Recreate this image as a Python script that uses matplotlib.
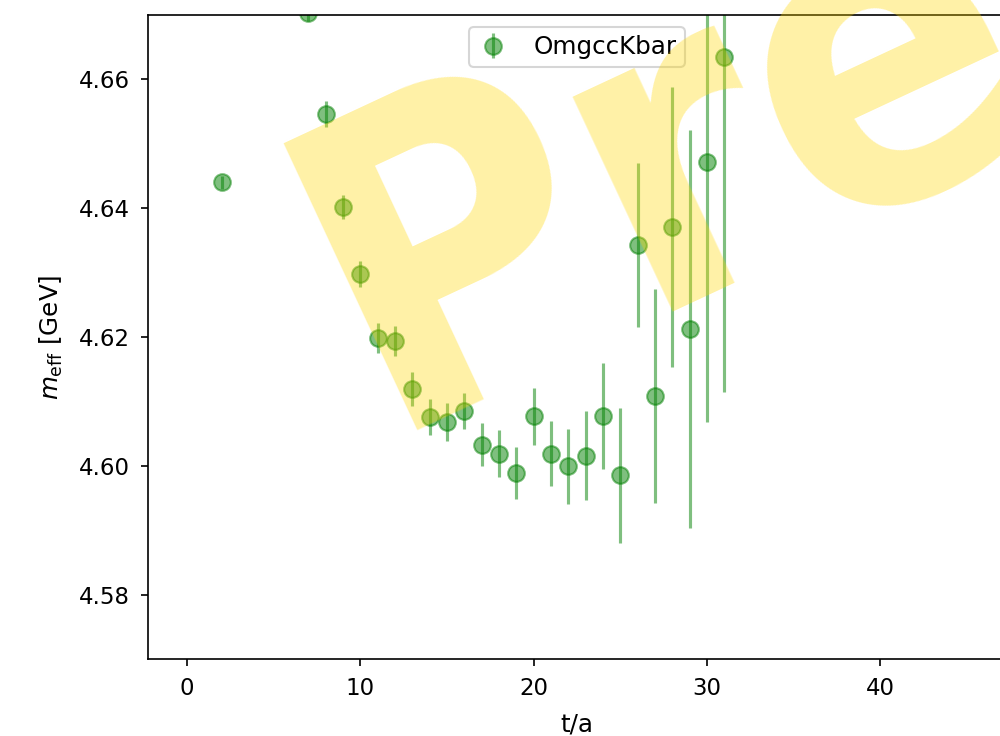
import numpy as np
import matplotlib
matplotlib.use('Agg')
import matplotlib.pyplot as plt
from matplotlib import font_manager

# effective mass of the OmgccKbar correlator, per time slice
t_slice = [2, 7, 8, 9, 10, 11, 12, 13, 14, 15, 16, 17, 18, 19, 20,
           21, 22, 23, 24, 25, 26, 27, 28, 29, 30, 31]
m_eff = [4.6440, 4.6703, 4.6546, 4.6402, 4.6298, 4.6198, 4.6194, 4.6119,
         4.6076, 4.6068, 4.6085, 4.6033, 4.6019, 4.5989, 4.6077, 4.6019,
         4.5999, 4.6016, 4.6077, 4.5985, 4.6343, 4.6108, 4.6371, 4.6213,
         4.6471, 4.6635]
m_err = [0.0010, 0.0012, 0.0020, 0.0019, 0.0020, 0.0023, 0.0023, 0.0026,
         0.0028, 0.0029, 0.0028, 0.0033, 0.0037, 0.0040, 0.0044, 0.0050,
         0.0058, 0.0069, 0.0082, 0.0105, 0.0127, 0.0166, 0.0217, 0.0309,
         0.0403, 0.0520]

fig = plt.figure(figsize=(1000 / 150, 736 / 150), dpi=150)
ax = fig.add_axes([0.148, 0.1046, 0.858, 0.875])

ax.errorbar(t_slice, m_eff, yerr=m_err, fmt='o', color='g', alpha=0.5,
            markersize=8, label='OmgccKbar')

ax.set_xlim(-2.25, 47.25)
ax.set_ylim(4.57, 4.67)
ax.tick_params(labelsize=11, pad=5)
ax.set_xlabel('t/a', fontsize=11.8, labelpad=6)
ax.set_ylabel(r'$m_{\rm eff}$ [GeV]', fontsize=11.8, labelpad=7)
ax.legend(loc='upper center', fontsize=11.8, borderpad=0.32,
          handlelength=1.3, handletextpad=1.0)

# watermark (condensed bold if the system has it)
names = {f.name for f in font_manager.fontManager.ttflist}
wm_family = 'DejaVu Sans'
if 'DejaVu Sans Condensed' in names:
    wm_family = 'DejaVu Sans Condensed'
fig.text(0.382, 0.414, 'Preliminary', fontsize=208, fontweight='bold',
         family=wm_family, fontstretch='condensed',
         color='gold', alpha=0.35, rotation=25, rotation_mode='anchor',
         ha='left', va='baseline', zorder=10)

fig.savefig('out.png', dpi=150)
